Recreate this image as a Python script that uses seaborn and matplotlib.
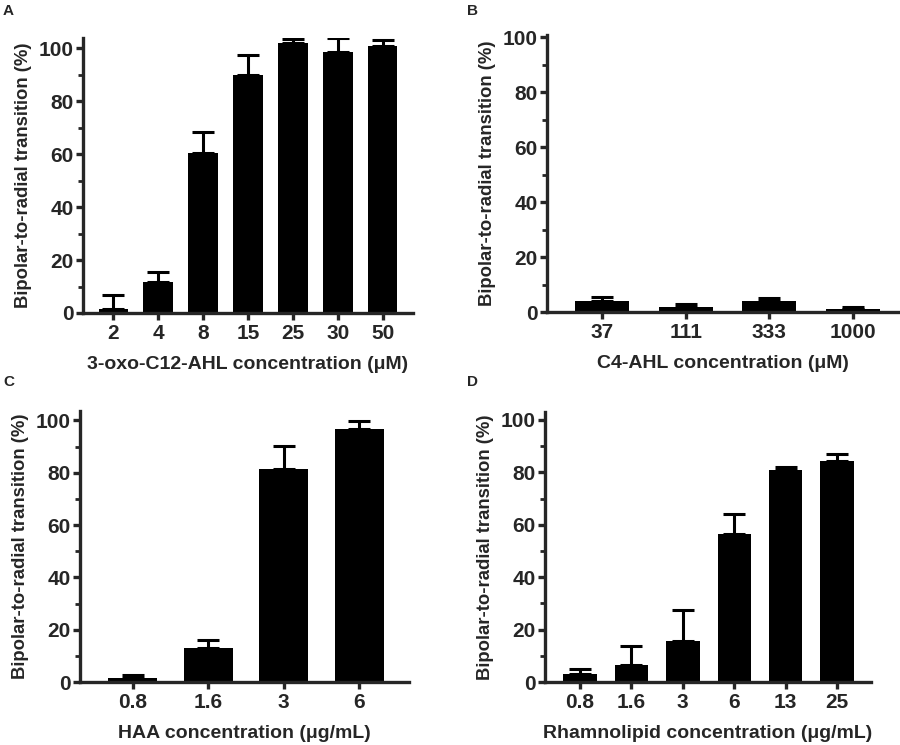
import matplotlib
matplotlib.use("Agg")
import matplotlib.pyplot as plt
import seaborn as sns
import pandas as pd
from matplotlib.ticker import MultipleLocator

sns.set_theme(style="ticks")
plt.rcParams['font.family'] = ['Liberation Sans', 'DejaVu Sans']
plt.rcParams['font.weight'] = 'bold'

# Panel A
a_cats = ["2", "4", "8", "15", "25", "30", "50"]
a_vals = [1.4, 11.7, 60.3, 89.9, 101.8, 98.6, 100.6]
a_err = [5.4, 3.6, 8.2, 7.3, 1.5, 5.2, 2.6]
# Panel B
b_cats = ["37", "111", "333", "1000"]
b_vals = [4.1, 1.9, 4.1, 1.1]
b_err = [1.2, 1.1, 0.9, 0.8]
# Panel C
c_cats = ["0.8", "1.6", "3", "6"]
c_vals = [1.5, 13.0, 81.4, 96.6]
c_err = [1.1, 3.2, 9.0, 3.1]
# Panel D
d_cats = ["0.8", "1.6", "3", "6", "13", "25"]
d_vals = [2.9, 6.3, 15.7, 56.5, 81.0, 84.4]
d_err = [2.2, 7.6, 11.6, 7.7, 1.0, 2.5]

xlabels = ["3-oxo-C12-AHL concentration (\u03bcM)", "C4-AHL concentration (\u03bcM)",
           "HAA concentration (\u03bcg/mL)", "Rhamnolipid concentration (\u03bcg/mL)"]
ylabel = "Bipolar-to-radial transition (%)"
letters = ["A", "B", "C", "D"]

W, H = 900, 745
fig = plt.figure(figsize=(9, 7.45), dpi=100)

# (left px, right px, zero px, top px, xlim, ylim top)
layout = [
    (83, 413, 313, 38, (-0.67, 6.67), 103.8),
    (547, 898, 312, 35, (-0.66, 3.54), 100.8),
    (80, 409, 682, 411, (-0.70, 3.66), 103.6),
    (545, 871, 682, 412, (-0.68, 5.66), 103.0),
]
panels = [(a_cats, a_vals, a_err), (b_cats, b_vals, b_err),
          (c_cats, c_vals, c_err), (d_cats, d_vals, d_err)]
letter_pos = [(3, 15), (467, 15), (3, 386), (467, 386)]

for i, ((cats, vals, errs), (l, r, z, t, xl, ytop)) in enumerate(zip(panels, layout)):
    ax = fig.add_axes([l / W, 1 - z / H, (r - l) / W, (z - t) / H])
    df = pd.DataFrame({"cat": cats, "val": vals})
    sns.barplot(data=df, x="cat", y="val", order=cats, color="black", saturation=1,
                width=0.65, errorbar=None, ax=ax, edgecolor="black", linewidth=0)
    xs = list(range(len(cats)))
    ax.errorbar(xs, vals, yerr=[[0] * len(vals), errs], fmt="none", ecolor="black",
                elinewidth=2.2, capsize=8, capthick=2.2, zorder=1)
    for b in ax.patches:
        b.set_zorder(2)
    ax.set_xlim(*xl)
    ax.set_ylim(0, ytop)
    ax.set_yticks([0, 20, 40, 60, 80, 100])
    ax.yaxis.set_minor_locator(MultipleLocator(10))
    sns.despine(ax=ax)
    for s in ["left", "bottom"]:
        ax.spines[s].set_linewidth(2.4)
    ax.tick_params(axis="both", which="major", width=2.4, length=5, labelsize=15)
    ax.tick_params(axis="x", which="major", pad=3)
    ax.tick_params(axis="y", which="major", pad=1.5)
    ax.tick_params(axis="y", which="minor", width=2.0, length=3.5)
    for lab in ax.get_xticklabels() + ax.get_yticklabels():
        lab.set_fontweight("bold")
    ax.set_xlabel(xlabels[i], fontsize=14, fontweight="bold", labelpad=9)
    ax.set_ylabel(ylabel, fontsize=13.3, fontweight="bold", labelpad=5)
    fig.text(letter_pos[i][0] / W, 1 - letter_pos[i][1] / H, letters[i], fontsize=11,
             fontweight="bold", ha="left", va="baseline")

fig.savefig("out.png", dpi=100)
